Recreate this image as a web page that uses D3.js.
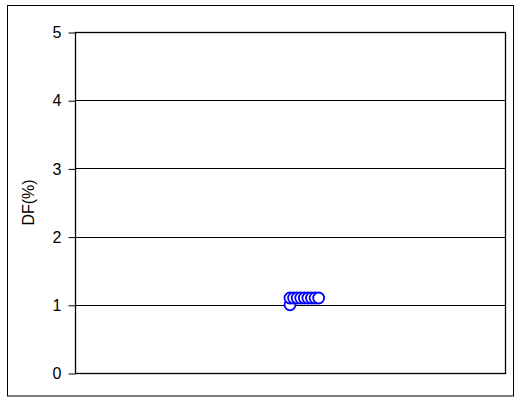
<!DOCTYPE html>
<html>
<head>
<meta charset="utf-8">
<script src="https://cdn.jsdelivr.net/npm/d3@7"></script>
<style>
  body { margin: 0; background: #fff; }
  svg { display: block; font-family: "Liberation Sans", Arial, sans-serif; }
</style>
</head>
<body>
<svg id="canvas"></svg>
<script>
let width = 514
let height = 398

// x positions (no x labels shown in the chart) and DF values
let xValues = [60, 60, 61, 62, 63, 64, 65, 66, 67, 68]
let dfValues = [1.0, 1.1, 1.1, 1.1, 1.1, 1.1, 1.1, 1.1, 1.1, 1.1]
let yTicks = [0, 1, 2, 3, 4, 5]

let plot = { left: 75, right: 505, top: 32, bottom: 373 }

let canvas = d3.select("#canvas")
    .attr("width", width)
    .attr("height", height)

let xScale = d3.scaleLinear()
    .domain([0, 120])
    .range([plot.left, plot.right])

let yScale = d3.scaleLinear()
    .domain([0, 5])
    .range([plot.bottom, plot.top])

// outer border
canvas.append("rect")
    .attr("x", 7.5).attr("y", 5.5)
    .attr("width", 506).attr("height", 390.5)
    .attr("fill", "none")
    .attr("stroke", "#000")

// gridlines
canvas.append("g")
    .selectAll("line")
    .data(yTicks.filter(d => d > 0))
    .enter()
    .append("line")
    .attr("x1", plot.left).attr("x2", plot.right)
    .attr("y1", d => Math.round(yScale(d)) + 0.5)
    .attr("y2", d => Math.round(yScale(d)) + 0.5)
    .attr("stroke", "#000")

// plot frame
canvas.append("rect")
    .attr("x", plot.left + 0.5).attr("y", plot.top + 0.5)
    .attr("width", plot.right - plot.left).attr("height", plot.bottom - plot.top)
    .attr("fill", "none")
    .attr("stroke", "#000")
    .attr("stroke-width", 1.3)

let yAxis = d3.axisLeft(yScale)
    .tickValues(yTicks)
    .tickFormat(d3.format("d"))
    .tickSizeInner(7)
    .tickSizeOuter(0)
    .tickPadding(7)

let yg = canvas.append("g")
    .attr("transform", "translate(" + (plot.left + 0.5) + ",0.5)")
    .call(yAxis)
yg.select(".domain").remove()
yg.selectAll("text")
    .attr("font-size", 16)
    .attr("font-family", "Liberation Sans, Arial, sans-serif")
    .attr("fill", "#000")

canvas.append("text")
    .attr("transform", "translate(34," + ((plot.top + plot.bottom) / 2) + ") rotate(-90)")
    .attr("text-anchor", "middle")
    .attr("font-size", 16)
    .text("DF(%)")

// points
canvas.append("g")
    .selectAll("circle")
    .data(xValues.map((x, i) => ({ x: x, y: dfValues[i] })))
    .enter()
    .append("circle")
    .attr("cx", d => xScale(d.x))
    .attr("cy", d => yScale(d.y))
    .attr("r", 5.5)
    .attr("fill", "#fff")
    .attr("stroke", "#0000ff")
    .attr("stroke-width", 1.8)
</script>
</body>
</html>
